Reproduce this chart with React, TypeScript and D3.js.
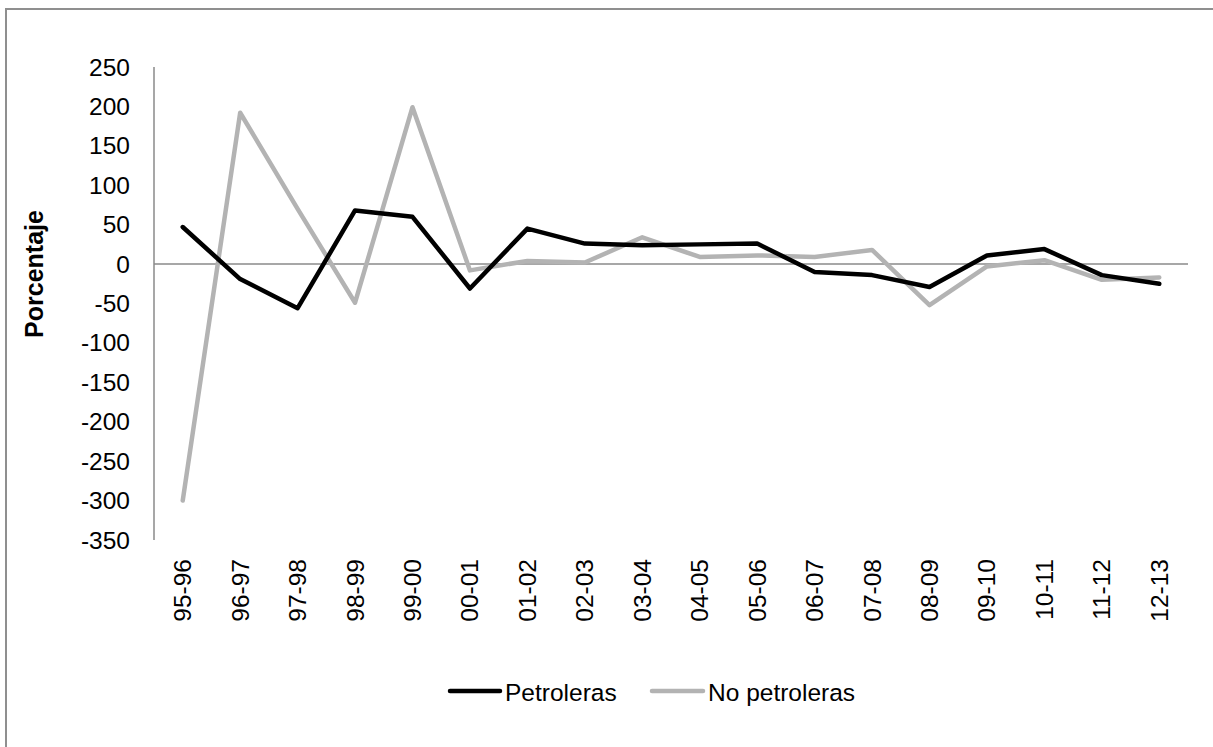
import React from "react";
import * as d3 from "d3";

const categories = ["95-96","96-97","97-98","98-99","99-00","00-01","01-02","02-03","03-04","04-05","05-06","06-07","07-08","08-09","09-10","10-11","11-12","12-13"];
const petroleras = [47,-19,-56,68,60,-31,45,26,24,25,26,-10,-14,-29,11,19,-14,-25];
const noPetroleras = [-300,192,70,-49,199,-8,4,2,34,9,11,9,18,-52,-3,5,-20,-17];
const yTicks = [250,200,150,100,50,0,-50,-100,-150,-200,-250,-300,-350];

const W = 1213, H = 747;
const left = 154, right = 1188, top = 67, bottom = 540;

export default function App() {
  const x = d3.scaleBand<string>().domain(categories).range([left, right]);
  const y = d3.scaleLinear().domain([-350, 250]).range([bottom, top]);
  const line = d3.line<number>()
    .x((_, i) => (x(categories[i]) as number) + x.bandwidth() / 2)
    .y((d) => y(d));
  const font = "'Liberation Sans', Arial, sans-serif";
  const fs = 24.5;
  return (
    <svg width={W} height={H} style={{ position: "absolute", left: 0, top: 0, background: "#fff" }} fontFamily={font}>
      <rect x={0} y={0} width={W} height={H} fill="#fff" />
      <rect x={6} y={9} width={W + 20} height={H + 20} fill="none" stroke="#8f8f8f" strokeWidth={2} />
      {yTicks.map((t) => (
        <text key={t} x={130} y={y(t)} textAnchor="end" dominantBaseline="central" fontSize={fs} fill="#000">{t}</text>
      ))}
      <line x1={left} x2={left} y1={top} y2={bottom} stroke="#8a8a8a" strokeWidth={1.5} />
      <line x1={left} x2={right} y1={y(0)} y2={y(0)} stroke="#8a8a8a" strokeWidth={1.5} />
      {categories.map((c) => {
        const cx = (x(c) as number) + x.bandwidth() / 2;
        return (
          <text key={c} transform={`translate(${cx},559) rotate(-90)`} textAnchor="end" dominantBaseline="central" fontSize={fs} fill="#000">{c}</text>
        );
      })}
      <text transform={`translate(34,274) rotate(-90)`} textAnchor="middle" dominantBaseline="central" fontSize={25} fontWeight="bold" fill="#000">Porcentaje</text>
      <path d={line(noPetroleras) || ""} fill="none" stroke="#b3b3b3" strokeWidth={4.5} strokeLinejoin="round" strokeLinecap="round" />
      <path d={line(petroleras) || ""} fill="none" stroke="#000" strokeWidth={4.5} strokeLinejoin="round" strokeLinecap="round" />
      <line x1={450} x2={500} y1={691} y2={691} stroke="#000" strokeWidth={4.5} strokeLinecap="round" />
      <text x={505} y={692} dominantBaseline="central" fontSize={fs} fill="#000">Petroleras</text>
      <line x1={652} x2={703} y1={691} y2={691} stroke="#b3b3b3" strokeWidth={4.5} strokeLinecap="round" />
      <text x={708} y={692} dominantBaseline="central" fontSize={fs} fill="#000">No petroleras</text>
    </svg>
  );
}
